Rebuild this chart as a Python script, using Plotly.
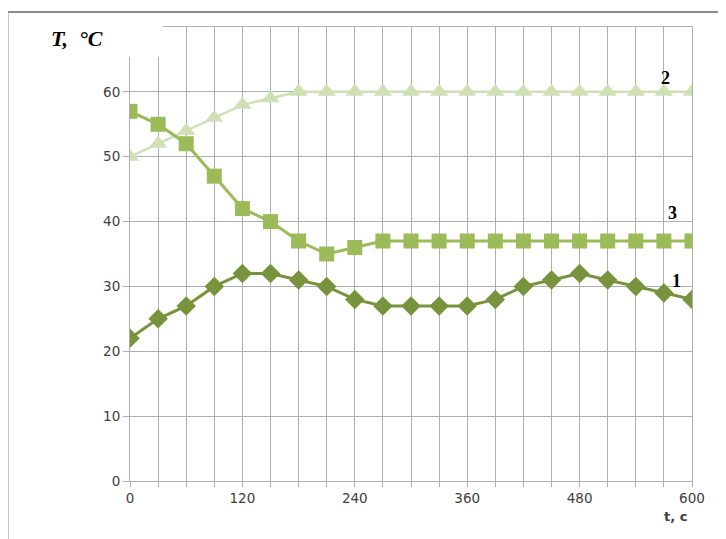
import plotly.graph_objects as go

t_values = [0, 30, 60, 90, 120, 150, 180, 210, 240, 270, 300, 330, 360, 390, 420, 450, 480, 510, 540, 570, 600]
series1 = [22, 25, 27, 30, 32, 32, 31, 30, 28, 27, 27, 27, 27, 28, 30, 31, 32, 31, 30, 29, 28]
series2 = [50, 52, 54, 56, 58, 59, 60, 60, 60, 60, 60, 60, 60, 60, 60, 60, 60, 60, 60, 60, 60]
series3 = [57, 55, 52, 47, 42, 40, 37, 35, 36, 37, 37, 37, 37, 37, 37, 37, 37, 37, 37, 37, 37]
x_ticks = list(range(0, 601, 30))
x_ticktext = [str(v) if v % 120 == 0 else "" for v in x_ticks]
y_ticks = [0, 10, 20, 30, 40, 50, 60, 70]
y_ticktext = ["0", "10", "20", "30", "40", "50", "60", ""]

c1 = "#77933C"
c2 = "#CFE0B4"
c3 = "#9BBB59"

fig = go.Figure()
fig.add_trace(go.Scatter(x=t_values, y=series2, mode="lines+markers",
                         line=dict(color=c2, width=2.5),
                         marker=dict(symbol="triangle-up", size=16, color=c2)))
fig.add_trace(go.Scatter(x=t_values, y=series3, mode="lines+markers",
                         line=dict(color=c3, width=3),
                         marker=dict(symbol="square", size=15, color=c3)))
fig.add_trace(go.Scatter(x=t_values, y=series1, mode="lines+markers",
                         line=dict(color=c1, width=3),
                         marker=dict(symbol="diamond", size=15, color=c1)))

grid = "#AFAFAF"
fig.update_layout(
    width=718, height=531,
    margin=dict(l=122, r=34, t=19, b=58),
    paper_bgcolor="white", plot_bgcolor="white",
    showlegend=False,
    font=dict(family="DejaVu Sans, sans-serif", size=13.5, color="#404040"),
    xaxis=dict(range=[0, 600], tickvals=x_ticks, ticktext=x_ticktext,
               showgrid=True, gridcolor=grid, gridwidth=1,
               ticks="outside", ticklen=5, tickcolor=grid,
               showline=True, linecolor=grid, linewidth=1, mirror=True,
               zeroline=False, tickangle=0),
    yaxis=dict(range=[0, 70], tickvals=y_ticks, ticktext=y_ticktext,
               showgrid=True, gridcolor=grid, gridwidth=1,
               ticks="outside", ticklen=6, tickcolor=grid,
               showline=True, linecolor=grid, linewidth=1, mirror=True,
               zeroline=False),
    shapes=[
        dict(type="rect", xref="paper", yref="paper", x0=-0.2, x1=0.0587, y0=0.934, y1=1.02,
             fillcolor="white", line=dict(width=0), layer="above"),
        dict(type="rect", xref="paper", yref="paper", x0=-0.218, x1=1.3, y0=-0.3, y1=1.033,
             fillcolor="rgba(0,0,0,0)", line=dict(color="#8C8C8C", width=2), layer="above"),
    ],
    annotations=[
        dict(text="<b><i>T,&nbsp;&nbsp;°C</i></b>", xref="paper", yref="paper", x=-0.145, y=0.974,
             xanchor="left", yanchor="middle", showarrow=False,
             font=dict(family="Liberation Serif, serif", size=22, color="black")),
        dict(text="<b>t, c</b>", xref="paper", yref="paper", x=0.971, y=-0.079,
             xanchor="center", yanchor="middle", showarrow=False,
             font=dict(family="DejaVu Sans, sans-serif", size=13, color="#404040")),
        dict(text="<b>2</b>", xref="paper", yref="paper", x=0.952, y=0.888,
             xanchor="center", yanchor="middle", showarrow=False,
             font=dict(family="Liberation Serif, serif", size=18, color="black")),
        dict(text="<b>3</b>", xref="paper", yref="paper", x=0.966, y=0.590,
             xanchor="center", yanchor="middle", showarrow=False,
             font=dict(family="Liberation Serif, serif", size=18, color="black")),
        dict(text="<b>1</b>", xref="paper", yref="paper", x=0.972, y=0.440,
             xanchor="center", yanchor="middle", showarrow=False,
             font=dict(family="Liberation Serif, serif", size=18, color="black")),
    ],
)

fig.write_html("out.html")
